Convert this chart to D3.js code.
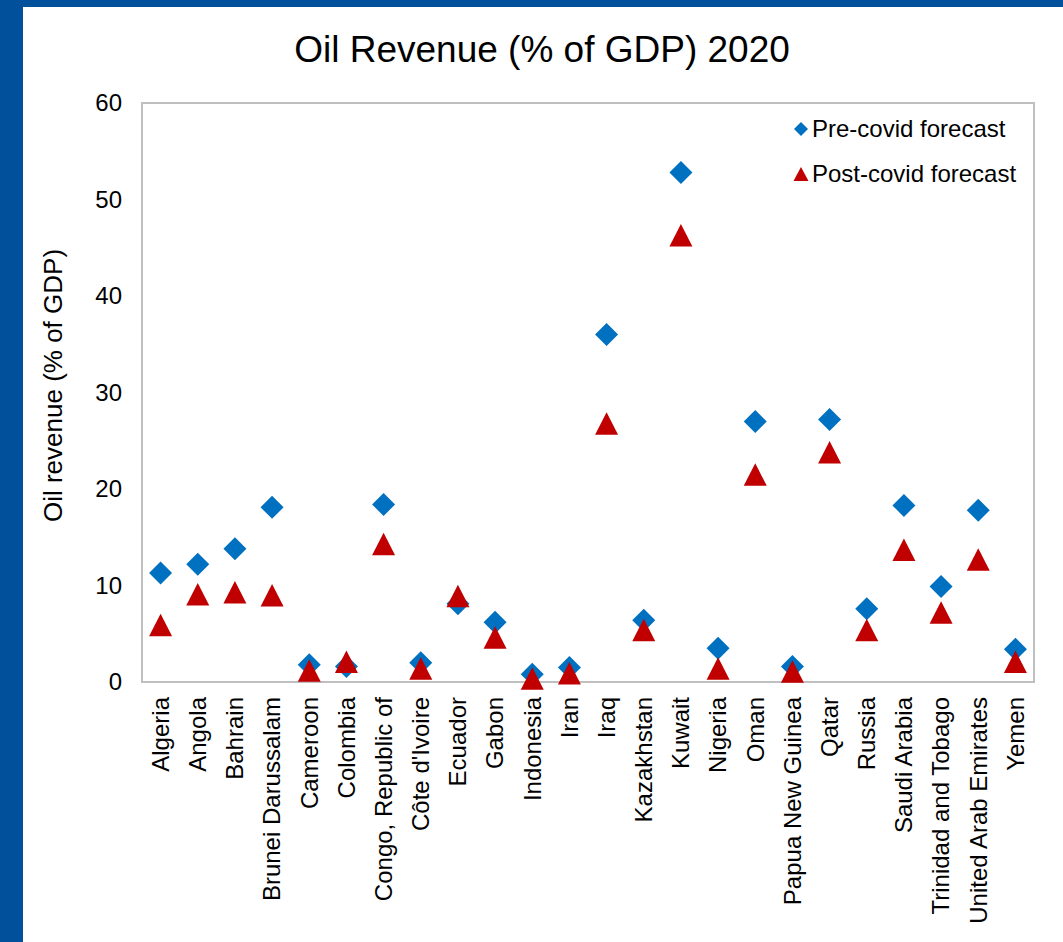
<!DOCTYPE html>
<html>
<head>
<meta charset="utf-8">
<script src="https://cdn.jsdelivr.net/npm/d3@7/dist/d3.min.js"></script>
<style>
  html, body { margin: 0; padding: 0; background: #ffffff; }
  svg { display: block; font-family: "Liberation Sans", Arial, sans-serif; }
</style>
</head>
<body>
<svg id="chart" width="1063" height="942"></svg>
<script>
// Oil revenue as % of GDP, 2020 forecasts
const countries = [
  "Algeria", "Angola", "Bahrain", "Brunei Darussalam", "Cameroon", "Colombia",
  "Congo, Republic of", "Côte d'Ivoire", "Ecuador", "Gabon", "Indonesia", "Iran",
  "Iraq", "Kazakhstan", "Kuwait", "Nigeria", "Oman", "Papua New Guinea", "Qatar",
  "Russia", "Saudi Arabia", "Trinidad and Tobago", "United Arab Emirates", "Yemen"
];
const preCovid = [
  11.3, 12.2, 13.8, 18.1, 1.8, 1.6,
  18.4, 2.0, 8.1, 6.2, 0.8, 1.5,
  36.0, 6.4, 52.8, 3.5, 27.0, 1.6, 27.2,
  7.6, 18.3, 9.9, 17.8, 3.4
];
const postCovid = [
  5.9, 9.1, 9.3, 9.0, 1.2, 2.1,
  14.3, 1.4, 8.9, 4.6, 0.35, 0.9,
  26.8, 5.4, 46.3, 1.4, 21.5, 1.1, 23.8,
  5.4, 13.7, 7.2, 12.7, 2.1
];
const yTicks = [0, 10, 20, 30, 40, 50, 60];
const seriesNames = ["Pre-covid forecast", "Post-covid forecast"];

const BLUE = "#0070c0";
const RED = "#c00000";
const FRAME = "#00509b";

const svg = d3.select("#chart");

// Slide frame: blue band on the left and top
svg.append("rect").attr("x", 0).attr("y", 0).attr("width", 1063).attr("height", 942).attr("fill", "#ffffff");
svg.append("rect").attr("x", 0).attr("y", 0).attr("width", 23).attr("height", 942).attr("fill", FRAME);
svg.append("rect").attr("x", 0).attr("y", 0).attr("width", 1063).attr("height", 7).attr("fill", FRAME);

const plot = { left: 142, right: 1034, top: 103, bottom: 682 };

const x = d3.scaleBand().domain(countries).range([plot.left, plot.right]);
const y = d3.scaleLinear().domain([0, 60]).range([plot.bottom, plot.top]);
const cx = c => x(c) + x.bandwidth() / 2;

// Title
svg.append("text")
  .attr("x", 542).attr("y", 62)
  .attr("text-anchor", "middle")
  .attr("font-size", 37)
  .attr("fill", "#000")
  .text("Oil Revenue (% of GDP) 2020");

// Plot area border
svg.append("rect")
  .attr("x", plot.left).attr("y", plot.top)
  .attr("width", plot.right - plot.left).attr("height", plot.bottom - plot.top)
  .attr("fill", "none").attr("stroke", "#bfbfbf").attr("stroke-width", 2);

// Y axis labels
const yAxis = d3.axisLeft(y).tickValues(yTicks).tickSize(0).tickPadding(20);
const gy = svg.append("g").attr("transform", `translate(${plot.left},0)`).call(yAxis);
gy.select(".domain").remove();
gy.selectAll("text").attr("font-size", 24).attr("fill", "#000")
  .attr("font-family", "Liberation Sans, Arial, sans-serif");

// X axis labels (rotated)
const xAxis = d3.axisBottom(x).tickSize(0).tickPadding(0);
const gx = svg.append("g").attr("transform", `translate(0,${plot.bottom})`).call(xAxis);
gx.select(".domain").remove();
gx.selectAll("text")
  .attr("font-size", 24).attr("fill", "#000")
  .attr("font-family", "Liberation Sans, Arial, sans-serif")
  .attr("text-anchor", "end")
  .attr("transform", "rotate(-90)")
  .attr("x", -15).attr("y", 0).attr("dy", "0.35em");

// Y axis title
svg.append("text")
  .attr("transform", `translate(62,${(plot.top + plot.bottom) / 2 - 7}) rotate(-90)`)
  .attr("text-anchor", "middle")
  .attr("font-size", 26)
  .attr("fill", "#000")
  .text("Oil revenue (% of GDP)");

// Marker shapes
const diamondPath = r => `M0,${-r}L${r},0L0,${r}L${-r},0Z`;
const trianglePath = (w, h) => `M0,${-h / 2}L${w / 2},${h / 2}L${-w / 2},${h / 2}Z`;

svg.append("g").selectAll("path")
  .data(countries)
  .join("path")
  .attr("d", diamondPath(11.5))
  .attr("transform", (c, i) => `translate(${cx(c)},${y(preCovid[i])})`)
  .attr("fill", BLUE);

svg.append("g").selectAll("path")
  .data(countries)
  .join("path")
  .attr("d", trianglePath(23, 22.5))
  .attr("transform", (c, i) => `translate(${cx(c)},${y(postCovid[i])})`)
  .attr("fill", RED);

// Legend
const legend = svg.append("g");
const legendRows = [
  { name: seriesNames[0], shape: diamondPath(7), color: BLUE, y: 129 },
  { name: seriesNames[1], shape: trianglePath(15, 14), color: RED, y: 174 }
];
legendRows.forEach(r => {
  legend.append("path").attr("d", r.shape).attr("fill", r.color)
    .attr("transform", `translate(801,${r.y})`);
  legend.append("text").attr("x", 812).attr("y", r.y).attr("dy", "0.35em")
    .attr("font-size", 24).attr("fill", "#000").text(r.name);
});
</script>
</body>
</html>
